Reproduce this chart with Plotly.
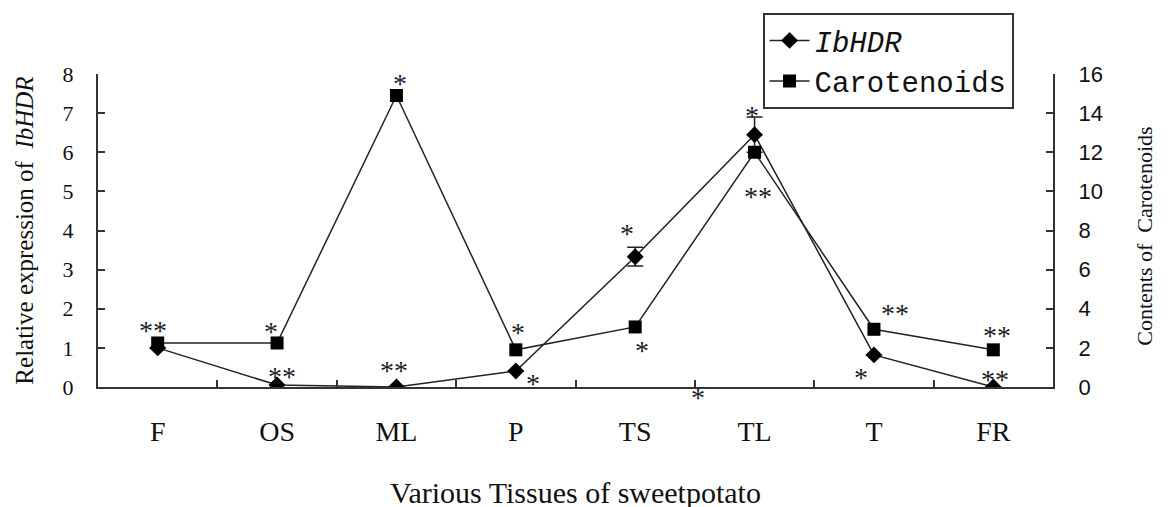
import plotly.graph_objects as go

categories = ["F", "OS", "ML", "P", "TS", "TL", "T", "FR"]
ibhdr = [1.0, 0.05, 0.0, 0.41, 3.33, 6.45, 0.82, 0.0]
ibhdr_err = [0, 0, 0, 0, 0.24, 0.45, 0, 0]
carotenoids = [2.25, 2.25, 14.9, 1.9, 3.07, 12.0, 2.95, 1.9]

# significance marks: (category index, series, text, xshift, yshift)
stars = [
    (0, "car", "**", -5, 18),
    (1, "car", "*", -6, 17),
    (1, "hdr", "**", 5, 15),
    (2, "car", "*", 4, 18),
    (2, "hdr", "**", -2, 23),
    (3, "car", "*", 2, 23),
    (3, "hdr", "*", 17, -7),
    (4, "hdr", "*", -8, 29),
    (4, "car", "*", 7, -18),
    (5, "hdr", "*", -3, 25),
    (5, "car", "**", 3, -38),
    (6, "car", "**", 21, 22),
    (6, "hdr", "*", -13, -17),
    (7, "car", "**", 4, 20),
    (7, "hdr", "**", 2, 14),
]

serif = "Times New Roman, Liberation Serif, serif"
starfont = dict(family=serif, size=28, color="#1b1b28")

fig = go.Figure()
fig.add_trace(go.Scatter(
    x=categories, y=ibhdr, name="<i>IbHDR</i>", mode="lines+markers",
    line=dict(color="#222", width=1.5),
    marker=dict(symbol="diamond", size=13, color="black"),
    error_y=dict(type="data", array=ibhdr_err, visible=True, color="#222", thickness=1.5, width=8),
))
fig.add_trace(go.Scatter(
    x=categories, y=carotenoids, name="Carotenoids", mode="lines+markers",
    line=dict(color="#222", width=1.5),
    marker=dict(symbol="square", size=13, color="black"),
    yaxis="y2",
))

ann = []
for i, s, t, xs, ys in stars:
    yv = ibhdr[i] if s == "hdr" else carotenoids[i]
    ann.append(dict(x=i, y=yv, xref="x", yref="y" if s == "hdr" else "y2", text=t,
                    showarrow=False, xshift=xs, yshift=ys - 6, font=starfont))
ann.append(dict(x=4.53, y=0, xref="x", yref="y", text="*", showarrow=False, yshift=-10, font=starfont))
# right axis title
ann.append(dict(x=1, y=0.48, xref="paper", yref="paper", text="Contents of  Carotenoids",
                textangle=-90, showarrow=False, xanchor="center", yanchor="middle", xshift=92,
                font=dict(family=serif, size=22, color="#111")))

fig.update_layout(
    width=1168, height=507,
    margin=dict(l=90, r=123, t=66, b=128, autoexpand=False),
    plot_bgcolor="white", paper_bgcolor="white",
    showlegend=True,
    legend=dict(x=0.646, y=0.99, xref="container", yref="container", xanchor="left", yanchor="top",
                bordercolor="#333", borderwidth=2, bgcolor="white",
                font=dict(family="Liberation Mono, monospace", size=29, color="#111"),
                tracegroupgap=0, itemwidth=40),
    xaxis=dict(type="category", range=[-0.5, 7.5], showline=True, linecolor="#333", linewidth=2,
               ticks="inside", tickson="boundaries", ticklen=7, tickcolor="#333", tickwidth=1.5,
               tickfont=dict(family=serif, size=28, color="#111"), ticklabelstandoff=18,
               title=dict(text="Various Tissues of sweetpotato", font=dict(family=serif, size=30, color="#111"), standoff=36),
               showgrid=False, zeroline=False, automargin=False),
    yaxis=dict(range=[0, 8], dtick=1, showline=True, linecolor="#333", linewidth=2,
               ticks="inside", ticklen=7, tickcolor="#333", tickwidth=1.5,
               tickfont=dict(family=serif, size=22, color="#111"), ticklabelstandoff=18,
               title=dict(text="Relative expression of  <i>IbHDR</i>", font=dict(family=serif, size=25, color="#111"), standoff=22),
               showgrid=False, zeroline=False, automargin=False),
    yaxis2=dict(range=[0, 16], dtick=2, overlaying="y", side="right", showline=True, linecolor="#333", linewidth=2,
                ticks="inside", ticklen=7, tickcolor="#333", tickwidth=1.5,
                tickfont=dict(family="Liberation Sans, Arial, sans-serif", size=22, color="#111"), ticklabelstandoff=19,
                showgrid=False, zeroline=False, automargin=False),
    annotations=ann,
)
fig.write_html("out.html")
